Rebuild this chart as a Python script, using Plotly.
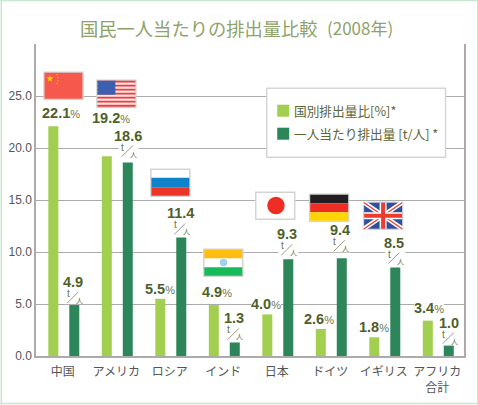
import math
import plotly.graph_objects as go

categories = ["中国", "アメリカ", "ロシア", "インド", "日本", "ドイツ", "イギリス", "アフリカ<br>合計"]
share_pct = [22.1, 19.2, 5.5, 4.9, 4.0, 2.6, 1.8, 3.4]
per_capita = [4.9, 18.6, 11.4, 1.3, 9.3, 9.4, 8.5, 1.0]
y_ticks = [0, 5, 10, 15, 20, 25]
y_tick_labels = ["0.0", "5.0", "10.0", "15.0", "20.0", "25.0"]
series_names = ["国別排出量比[%]*", "一人当たり排出量 [t/人] *"]
title_main = "国民一人当たりの排出量比較"
title_year = "(2008年)"

W, H = 478, 405
L, R, T, B = 35.5, 464, 44.3, 356.3
LIGHT, DARK = "#a2cf4f", "#2c8659"
LABEL = "#4f5f2a"
GRID = "#ababab"
JP = "Noto Sans CJK JP"
SANS = "Liberation Sans"
BW = 10 / 53.5

def px(x): return (x - L) / (R - L)
def py(y): return (B - y) / (B - T)

# pixel offsets of value labels above each bar
share_lift = [13, 38, 9.5, 13, 10, 10, 10, 13]
share_dx = [8, 4, 0, 3, -1, -2, 0, 1]
pc_lift = [23, 27, 24, 24, 25, 28, 25, 23]
pc_dx = [-1, 0, -1, -1, -1, -2, -1, 0]

fig = go.Figure()
fig.add_bar(x=list(range(8)), y=share_pct, width=BW, offset=-0.27, marker_color=LIGHT, marker_line_width=0, name=series_names[0])
fig.add_bar(x=list(range(8)), y=per_capita, width=BW, offset=0.122, marker_color=DARK, marker_line_width=0, name=series_names[1])

ann = []
shapes = []

def text(x, y, s, size, color, font=SANS, xanchor="center", bg=None, xref="x", yref="y", xshift=0, yshift=0):
    a = dict(x=x, y=y, xref=xref, yref=yref, text=s, showarrow=False, xanchor=xanchor, yanchor="middle",
             font=dict(size=size, color=color, family=font), xshift=xshift, yshift=yshift,
             borderpad=0, borderwidth=0)
    if bg: a["bgcolor"] = bg
    ann.append(a)

def ptext(x, y, s, size, color, font=JP):
    text(px(x), py(y), s, size, color, font=font, xanchor="left", xref="paper", yref="paper")

def rect(x0, y0, x1, y1, fill, line=None, lw=0):
    shapes.append(dict(type="rect", xref="paper", yref="paper", x0=px(x0), x1=px(x1), y0=py(y0), y1=py(y1),
                       fillcolor=fill, line=dict(color=line or fill, width=lw), layer="above"))

def seg(x0, y0, x1, y1, color, w):
    shapes.append(dict(type="line", xref="paper", yref="paper", x0=px(x0), x1=px(x1), y0=py(y0), y1=py(y1),
                       line=dict(color=color, width=w), layer="above"))

def circle(x0, y0, x1, y1, color):
    shapes.append(dict(type="circle", xref="paper", yref="paper", x0=px(x0), x1=px(x1), y0=py(y0), y1=py(y1),
                       fillcolor=color, line=dict(width=0), layer="above"))

def star(cx, cy, r, color):
    pts = []
    for k in range(10):
        rr = r if k % 2 == 0 else r * 0.42
        a = -math.pi / 2 + k * math.pi / 5
        pts.append((px(cx + rr * math.cos(a)), py(cy + rr * math.sin(a))))
    path = "M" + "L".join(f"{a:.5f},{b:.5f}" for a, b in pts) + "Z"
    shapes.append(dict(type="path", xref="paper", yref="paper", path=path, fillcolor=color, line=dict(width=0), layer="above"))

# value labels
for i in range(8):
    text(i - 0.267 + BW / 2, share_pct[i],
         f"<b>{share_pct[i]:.1f}</b><span style='font-size:11px;color:#6a7550'>%</span>",
         14.5, LABEL, yshift=share_lift[i], xshift=share_dx[i], bg="white")
    xc = i + 0.122 + BW / 2
    text(xc, per_capita[i], f"<b>{per_capita[i]:.1f}</b>", 14.5, LABEL,
         yshift=pc_lift[i], xshift=pc_dx[i], bg="white")
    base = pc_lift[i] - 23
    text(xc, per_capita[i], "t", 10, "#6a7550", yshift=11.5 + base, xshift=pc_dx[i] - 5)
    text(xc, per_capita[i], "人", 7, "#6a7550", font=JP, yshift=5 + base, xshift=pc_dx[i] + 6)
    shapes.append(dict(type="rect", xref="x", yref="y", xsizemode="pixel", ysizemode="pixel",
                       xanchor=xc, yanchor=per_capita[i],
                       x0=pc_dx[i] - 9, x1=pc_dx[i] + 11, y0=1 + base, y1=15 + base,
                       fillcolor="white", line=dict(width=0), layer="above"))
    shapes.append(dict(type="line", xref="x", yref="y", xsizemode="pixel", ysizemode="pixel",
                       xanchor=xc, yanchor=per_capita[i],
                       x0=pc_dx[i] - 6, x1=pc_dx[i] + 5, y0=2 + base, y1=13 + base,
                       line=dict(color="#9a9a8a", width=1), layer="above"))

# title
ptext(80, 28, title_main, 18.3, "#8ea26a")
ptext(327, 27.5, title_year, 17, "#8ea26a")

# legend
rect(266.5, 88.5, 445.5, 157.5, "white", "#d6d6d6", 1.5)
rect(277, 105, 289, 117, LIGHT)
rect(277, 128, 289, 140, DARK)
ptext(294, 111, series_names[0], 12.7, "#5a6538")
ptext(294, 134, series_names[1], 12.7, "#5a6538")

def frame(x, y):
    rect(x, y, x + 39, y + 27, "white", "#d4d4d4", 1.5)

# China
frame(43.5, 72.5)
rect(44, 73, 82, 99, "#f6594b")
star(49.5, 79, 3.5, "#ffd400")
for dx, dy in [(56.5, 75), (57.5, 78), (57.5, 81), (56.5, 84)]:
    star(dx, dy, 1, "#ffd400")

# USA
frame(96.5, 80.5)
for k in range(13):
    rect(97, 81 + k * 26 / 13, 135, 81 + (k + 1) * 26 / 13, "#ee3b3b" if k % 2 == 0 else "#fbe3e0")
rect(97, 81, 115, 95, "#3c5fb0")

# Russia
frame(150.5, 169.5)
rect(151, 178, 189, 187.5, "#0f83c9")
rect(151, 187.5, 189, 196, "#ea3527")

# India
frame(203.5, 249.5)
rect(204, 250, 242, 258.5, "#ffbc11")
rect(204, 267.5, 242, 276, "#17bb5a")
circle(219.5, 259, 227, 266.5, "#9fd2ee")

# Japan
frame(255.5, 192.5)
circle(267, 197, 284.5, 214.5, "#ee2e24")

# Germany
frame(309.5, 194.5)
rect(310, 195, 348, 203.5, "#231f20")
rect(310, 203.5, 348, 212.5, "#ee2e24")
rect(310, 212.5, 348, 221, "#ffd400")

# UK
frame(363.5, 202.5)
rect(364, 203, 402, 229, "#2f4f9f")
seg(364, 203, 402, 229, "white", 4.5)
seg(364, 229, 402, 203, "white", 4.5)
seg(364, 203, 402, 229, "#ee3b2e", 1.3)
seg(364, 229, 402, 203, "#ee3b2e", 1.3)
rect(379.5, 203, 386.5, 229, "white")
rect(364, 212.5, 402, 219.5, "white")
rect(381, 203, 385, 229, "#ee3b2e")
rect(364, 214, 402, 218, "#ee3b2e")

# outer page border
BORDER = "#c8e6cf"
rect(0, 0, 478, 1.5, BORDER)
rect(0, 0, 1.5, 405, BORDER)
rect(0, 403, 478, 404.5, BORDER)
rect(477, 0, 478, 405, BORDER)

fig.update_layout(
    width=W, height=H, autosize=False, showlegend=False, barmode="overlay",
    paper_bgcolor="white", plot_bgcolor="white",
    margin=dict(l=L, r=W - R, t=T, b=H - B, pad=0),
    annotations=ann, shapes=shapes,
    xaxis=dict(tickmode="array", tickvals=list(range(8)), ticktext=categories, range=[-0.5, 7.5], automargin=False,
               showgrid=False, zeroline=False, showline=True, linecolor=GRID, linewidth=1.5, ticks="",
               tickfont=dict(family=JP, size=12, color="#555555"), ticklabelstandoff=4),
    yaxis=dict(range=[0, 30], tickmode="array", tickvals=y_ticks, ticktext=y_tick_labels, automargin=False,
               showgrid=True, gridcolor=GRID, gridwidth=1, zeroline=False, showline=True, mirror=True,
               linecolor=GRID, linewidth=1.5, ticks="",
               tickfont=dict(family=SANS, size=12, color="#555555")),
)
fig.write_html("out.html", config={"displayModeBar": False},
               post_script="document.body.style.margin='0';document.documentElement.style.overflow='hidden';")
